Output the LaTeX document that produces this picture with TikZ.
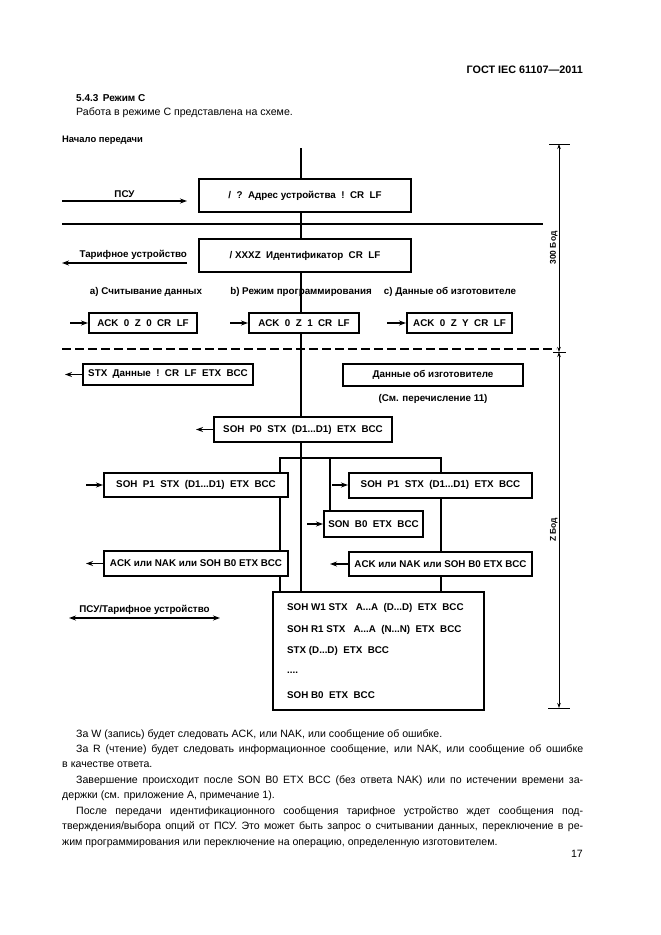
\documentclass[tikz,border=0pt]{standalone}
\usepackage{fontspec}
\setmainfont{Liberation Sans}
\usetikzlibrary{arrows.meta,calc}
\pgfdeclarelayer{bg}
\pgfsetlayers{bg,main}
\newcommand\diagfont{\bfseries\fontsize{9.8}{11}\selectfont}
\newcommand\bodyfont{\fontsize{10.6}{13}\selectfont}
\begin{document}
\begin{tikzpicture}[x=1pt,y=-1pt,
  msgbox/.style={draw,line width=2pt,fill=white,inner sep=0pt,font=\diagfont},
  thick line/.style={line width=2pt},
  sig/.style={line width=1.8pt,-{Stealth[length=7pt,width=5pt]}},
  dsig/.style={line width=1.8pt,{Stealth[length=7pt,width=5pt]}-{Stealth[length=7pt,width=5pt]}},
  lbl/.style={inner sep=0pt,font=\diagfont},
  dimline/.style={line width=0.8pt},
  dimarrow/.style={line width=0.8pt,{Stealth[length=5pt,width=3.5pt]}-{Stealth[length=5pt,width=3.5pt]}},
  body/.style={inner sep=0pt,anchor=base west,font=\bodyfont},
]
\begin{pgfonlayer}{bg}
\fill[white] (0,0) rectangle (661,935);
\end{pgfonlayer}
\useasboundingbox (0,0) rectangle (661,935);

% header texts
\node[inner sep=0pt,anchor=base east,font=\bfseries\fontsize{10.8}{13}\selectfont] (hdr) at (583,73) {ГОСТ IEC 61107—2011};
\node[inner sep=0pt,anchor=base west,font=\bfseries\fontsize{10}{12}\selectfont] (sec) at (76,101) {5.4.3\, Режим С};
\node[body] (intro) at (76,115) {Работа в режиме С представлена на схеме.};
\node[inner sep=0pt,anchor=base west,font=\bfseries\fontsize{9.4}{10}\selectfont] (start) at (62,142) {Начало передачи};

% coordinates
\coordinate (trunktop) at (301,148);
\coordinate (loopL) at (280,458);
\coordinate (loopI) at (330,458);
\coordinate (loopR) at (441,458);

% boxes
\node[msgbox,minimum width=212pt,minimum height=33pt] (b1) at (305,195.5) {/\ \ ?\ \ Адрес устройства\ \ !\ \ CR\ \ LF};
\node[msgbox,minimum width=212pt,minimum height=33pt] (b2) at (305,255.5) {/ XXXZ\ \ Идентификатор\ \ CR\ \ LF};
\node[msgbox,minimum width=108pt,minimum height=20pt] (acka) at (143,323) {ACK\ \ 0\ \ Z\ \ 0\ \ CR\ \ LF};
\node[msgbox,minimum width=110pt,minimum height=20pt] (ackb) at (304,323) {ACK\ \ 0\ \ Z\ \ 1\ \ CR\ \ LF};
\node[msgbox,minimum width=105pt,minimum height=20pt] (ackc) at (459.5,323) {ACK\ \ 0\ \ Z\ \ Y\ \ CR\ \ LF};
\node[msgbox,minimum width=170pt,minimum height=21pt] (stx) at (168,374.5) {STX\ \ Данные\ \ !\ \ CR\ \ LF\ \ ETX\ \ BCC};
\node[msgbox,minimum width=180pt,minimum height=22pt] (mfr) at (433,375) {Данные об изготовителе};
\node[msgbox,minimum width=178pt,minimum height=25pt] (p0) at (303,429.5) {SOH\ \ P0\ \ STX\ \ (D1...D1)\ \ ETX\ \ BCC};
\node[msgbox,minimum width=184pt,minimum height=24pt] (p1L) at (196,485) {SOH\ \ P1\ \ STX\ \ (D1...D1)\ \ ETX\ \ BCC};
\node[msgbox,minimum width=183pt,minimum height=25pt] (p1R) at (440.5,485) {SOH\ \ P1\ \ STX\ \ (D1...D1)\ \ ETX\ \ BCC};
\node[msgbox,minimum width=99pt,minimum height=26pt] (son) at (373.5,524) {SON\ \ B0\ \ ETX\ \ BCC};
\node[msgbox,minimum width=184pt,minimum height=25pt] (ackL) at (196,563.5) {ACK или NAK или SOH B0 ETX BCC};
\node[msgbox,minimum width=183pt,minimum height=24pt] (ackR) at (440.5,564) {ACK или NAK или SOH B0 ETX BCC};
\node[msgbox,minimum width=211pt,minimum height=118pt] (big) at (378.5,651) {};
\node[lbl,anchor=west] (l1) at (287,608) {SOH W1 STX\ \ \ A...A\ \ (D...D)\ \ ETX\ \ BCC};
\node[lbl,anchor=west] (l2) at (287,630) {SOH R1 STX\ \ \ A...A\ \ (N...N)\ \ ETX\ \ BCC};
\node[lbl,anchor=west] (l3) at (287,651) {STX (D...D)\ \ ETX\ \ BCC};
\node[lbl,anchor=west] (l4) at (287,673) {....};
\node[lbl,anchor=west] (l5) at (287,695) {SOH B0\ \ ETX\ \ BCC};

% labels
\node[lbl] (la) at (146,292) {а) Считывание данных};
\node[lbl] (lb) at (301,292) {b) Режим программирования};
\node[lbl] (lc) at (450,292) {c) Данные об изготовителе};
\node[lbl] (note) at (433,399) {(См. перечисление 11)};

% trunk and loop (behind boxes)
\begin{pgfonlayer}{bg}
\draw[thick line] (trunktop) -- (trunktop |- big.north);
\draw[thick line] (loopL |- big.north) -- (loopL) -- (loopR) -- (loopR |- big.north);
\draw[thick line] (loopI) -- (loopI |- son.north);
\end{pgfonlayer}

% separators
\coordinate (sepL) at (62,224);
\coordinate (sepR) at (543,224);
\draw[thick line] (sepL) -- (sepR);
\coordinate (dashL) at (62,349);
\coordinate (dashR) at (556,349);
\draw[line width=1.8pt,dash pattern=on 9pt off 4pt] (dashL) -- (dashR);

% signal arrows
\coordinate (psuL) at (62,201);
\coordinate (psuR) at (187,201);
\draw[sig] (psuL) -- (psuR) node[midway,above=3pt,lbl] (psu) {ПСУ};
\coordinate (tarR) at (187,263);
\coordinate (tarL) at (62,263);
\draw[sig] (tarR) -- (tarL) node[pos=0.43,above=3pt,lbl] (tar) {Тарифное устройство};
\coordinate (ia) at (70,323);
\coordinate (ib) at (230,323);
\coordinate (ic) at (387,323);
\draw[sig] (ia) -- (acka.west);
\draw[sig] (ib) -- (ackb.west);
\draw[sig] (ic) -- (ackc.west);
\coordinate (ostx) at (65,374.5);
\draw[sig] (stx.west) -- (ostx);
\coordinate (op0) at (196,429.5);
\draw[sig] (p0.west) -- (op0);
\coordinate (ip1L) at (86,485);
\draw[sig] (ip1L) -- (p1L.west);
\coordinate (ip1R) at (332,485);
\draw[sig] (ip1R) -- (p1R.west);
\coordinate (ison) at (307,524);
\draw[sig] (ison) -- (son.west);
\coordinate (oackL) at (86,563.5);
\draw[sig] (ackL.west) -- (oackL);
\coordinate (oackR) at (330,564);
\draw[sig] (ackR.west) -- (oackR);
\coordinate (bothL) at (69,618);
\coordinate (bothR) at (220,618);
\draw[dsig] (bothL) -- (bothR) node[midway,above=3pt,lbl] (both) {ПСУ/Тарифное устройство};

% dimension line
\coordinate (dtop) at (559,144);
\coordinate (dmid) at (559,352);
\coordinate (dbot) at (559,708);
\draw[dimline] ($(dtop)+(-10,0)$) -- ($(dtop)+(11,0)$);
\draw[dimline] ($(dmid)+(-6,0)$) -- ($(dmid)+(7,0)$);
\draw[dimline] ($(dbot)+(-11,0)$) -- ($(dbot)+(11,0)$);
\draw[dimarrow] (dtop) -- (dmid) node[midway,left=1pt,rotate=90,anchor=south,lbl,font=\bfseries\fontsize{8.4}{10}\selectfont] (d300) {300 Бод};
\draw[dimarrow] (dmid) -- (dbot) node[pos=0.5,left=1pt,rotate=90,anchor=south,lbl,font=\bfseries\fontsize{8.4}{10}\selectfont] (dz) {Z Бод};

% body text
\node[body] (t1) at (76,737) {За W (запись) будет следовать ACK, или NAK, или сообщение об ошибке.};
\node[body] (t2) at (76,752) {\makebox[507pt][s]{За R (чтение) будет следовать информационное сообщение, или NAK, или сообщение об ошибке}};
\node[body] (t3) at (62,767) {в качестве ответа.};
\node[body] (t4) at (76,783) {\makebox[507pt][s]{Завершение происходит после SON B0 ETX BCC (без ответа NAK) или по истечении времени за-}};
\node[body] (t5) at (62,798) {держки (см. приложение А, примечание 1).};
\node[body] (t6) at (76,814) {\makebox[507pt][s]{После передачи идентификационного сообщения тарифное устройство ждет сообщения под-}};
\node[body] (t7) at (62,829) {\makebox[521pt][s]{тверждения/выбора опций от ПСУ. Это может быть запрос о считывании данных, переключение в ре-}};
\node[body] (t8) at (62,845) {жим программирования или переключение на операцию, определенную изготовителем.};
\node[body,anchor=base east] (pg) at (583,857) {17};
\end{tikzpicture}
\end{document}
